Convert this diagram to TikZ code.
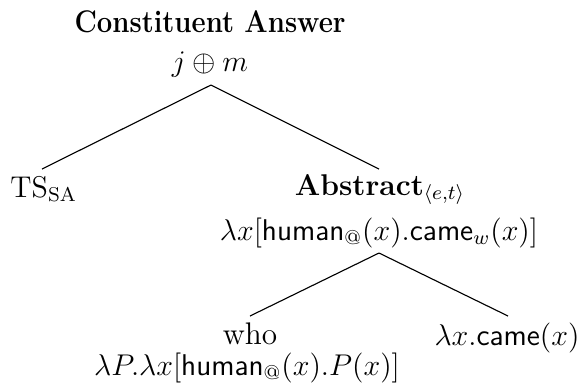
\documentclass[tikz,border=0pt]{standalone}
\usepackage{amsmath}
\usepackage{graphicx}
\usepackage{fontspec}
\begin{document}
\begin{tikzpicture}[x=0.4pt,y=-0.4pt,
  lbl/.style={inner sep=0pt,anchor=base,font=\fontsize{12}{14}\selectfont},
  branch/.style={line width=0.45pt}]
\useasboundingbox (0,0) rectangle (579,389);
\node[lbl,font=\fontsize{12.5}{14}\selectfont\bfseries] (title) at (210,32) {\scalebox{0.88}[1]{Constituent Answer}};
\node[lbl] (root) at (210,71) {$j \oplus m$};
\coordinate (rootBot) at (211,85);
\node[lbl,anchor=base west] (ts) at (10,197) {TS$_{\mathrm{SA}}$};
\coordinate (tsTop) at (42,169);
\node[lbl] (abs) at (380,195) {\textbf{Abstract}$_{\langle e,t\rangle}$};
\coordinate (absTop) at (379,169);
\node[lbl] (absSem) at (379,240) {$\lambda x[\mathsf{human}_{\mathsf{@}}(x).\mathsf{came}_w(x)]$};
\coordinate (absBot) at (379,253);
\node[lbl,font=\fontsize{12.5}{14}\selectfont] (who) at (250,344) {who};
\coordinate (whoTop) at (250,316);
\node[lbl] (came) at (507,345) {$\lambda x.\mathsf{came}(x)$};
\coordinate (cameTop) at (508,316);
\node[lbl] (whoSem) at (247,375) {$\lambda P.\lambda x[\mathsf{human}_{\mathsf{@}}(x).P(x)]$};
\draw[branch] (rootBot) -- (tsTop);
\draw[branch] (rootBot) -- (absTop);
\draw[branch] (absBot) -- (whoTop);
\draw[branch] (absBot) -- (cameTop);
\end{tikzpicture}
\end{document}
